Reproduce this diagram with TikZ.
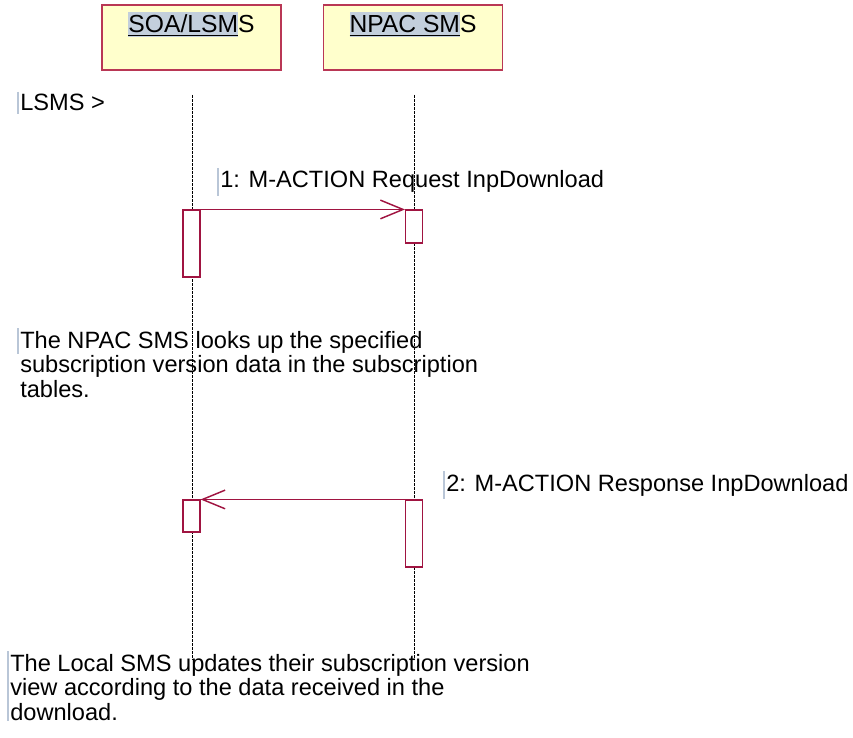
\documentclass[tikz,border=0pt]{standalone}
\usepackage{fontspec}
\setmainfont{Liberation Sans}
\definecolor{headfill}{RGB}{255,255,204}
\definecolor{headline}{RGB}{185,55,85}
\definecolor{msgred}{RGB}{160,20,65}
\definecolor{hlblue}{RGB}{195,207,220}
\definecolor{caretblue}{RGB}{185,198,215}
\usetikzlibrary{arrows.meta}
\setlength{\fboxsep}{0pt}
\newcommand{\hlname}[2]{\colorbox{hlblue}{\rule[-3pt]{0pt}{18.75pt}\underline{#1}}#2}

\begin{document}
\begin{tikzpicture}[x=0.75pt, y=-0.75pt,
        head/.style={draw=headline, line width=0.9pt, fill=headfill, minimum width=134.25pt, minimum height=48.75pt},
        headtext/.style={anchor=base, inner sep=0pt, font=\fontsize{18.5}{22}\selectfont},
        act/.style={draw=msgred, line width=0.8pt, fill=white, minimum width=12.75pt, inner sep=0pt},
        lifeline/.style={black, line width=0.6pt, dash pattern=on 2pt off 1pt},
        msg/.style={-{Straight Barb[length=17pt, width=14pt]}, msgred, line width=1.1pt},
        lbl/.style={inner sep=0pt, align=left, font=\fontsize{17.7}{18.4}\selectfont},
        caret/.style={caretblue, line width=1.5pt}
      ]
        \useasboundingbox (0,0) rectangle (853,738);
        \node[head] (soa)  at (191.5,37.5) {};
        \node[head] (npac) at (413,37.5) {};
        \node[headtext] (soaname)  at (191.5,33) {\hlname{SOA/LSM}{S}};
        \node[headtext] (npacname) at (413,33) {\hlname{NPAC SM}{S}};
        \coordinate (soatop)  at (192,95);
        \coordinate (soaend)  at (192,660);
        \coordinate (npactop) at (414,95);
        \coordinate (npacend) at (414,660);
        \draw[lifeline] (soatop) -- (soaend);
        \draw[lifeline] (npactop) -- (npacend);
        \node[act, minimum height=50.25pt] (req)    at (191.5,243.5) {};
        \node[act, minimum height=24.75pt] (reqin)  at (414,226.5) {};
        \node[act, minimum height=24pt]    (respin) at (191.5,516) {};
        \node[act, minimum height=50.25pt] (resp)   at (414,533.5) {};
        \draw[msg] (req.north east) -- (reqin.north west);
        \draw[msg] (resp.north west) -- (respin.north east);
        \node[lbl, anchor=base west] (lsms)    at (20,111) {LSMS >};
        \node[lbl, anchor=base west] (reqlbl)  at (220,188) {1: M-ACTION Request InpDownload};
        \node[lbl, anchor=base west] (resplbl) at (446,491) {2: M-ACTION Response InpDownload};
        \node[lbl, anchor=north west] (lookup) at (20,331) {The NPAC SMS looks up the specified\\subscription version data in the subscription\\tables.};
        \node[lbl, anchor=north west] (update) at (10,654) {The Local SMS updates their subscription version\\view according to the data received in the\\download.};
        \draw[caret] ([xshift=-1.5pt,yshift=2pt]lsms.north west) -- ([xshift=-1.5pt,yshift=-2pt]lsms.south west);
        \draw[caret] ([xshift=-1.5pt,yshift=2pt]reqlbl.north west) -- ([xshift=-1.5pt,yshift=-2pt]reqlbl.south west);
        \draw[caret] ([xshift=-1.5pt,yshift=2pt]resplbl.north west) -- ([xshift=-1.5pt,yshift=-2pt]resplbl.south west);
        \draw[caret] ([xshift=-1.5pt,yshift=2pt]lookup.north west) -- ([xshift=-1.5pt,yshift=-17pt]lookup.north west);
        \draw[caret] ([xshift=-1.5pt,yshift=2pt]update.north west) -- ([xshift=-1.5pt]update.south west);
      \end{tikzpicture}
\end{document}
